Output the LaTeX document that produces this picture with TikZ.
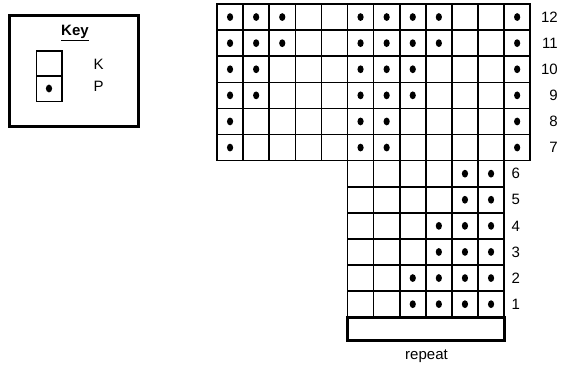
\documentclass[tikz,border=0pt]{standalone}
\usepackage{fontspec}
\setmainfont{Liberation Sans}
\usetikzlibrary{positioning}
\tikzset{
  knit grid/.style={draw=black,line width=1.6pt,line cap=rect},
  knit frame/.style={draw=black,line width=3pt},
  knit purl/.style={fill=black,draw=none},
  knit label/.style={
    text=black,
    inner sep=0pt,
    font=\fontsize{15}{17}\selectfont
  },
  knit title/.style={
    knit label,
    font=\fontsize{15}{17}\selectfont\bfseries
  }
}

\begin{document}
\begin{tikzpicture}[x=1pt,y=-1pt]
  \useasboundingbox (0,0) rectangle (561,364);

  % key box
  \draw[knit frame] (9.5,15.5) rectangle (138.5,126.5);
  \node[knit title] (keytitle) at (75,33) {\underline{Key}};
  \draw[knit grid] (36.3,50.7) rectangle (61.7,101.3);
  \draw[knit grid] (36.3,75.7) -- (61.7,75.7);
  \fill[knit purl] (49,88.5) circle[x radius=3.1pt,y radius=3.9pt];
  \node[knit label,anchor=west] (keyk) at (93.5,64) {K};
  \node[knit label,anchor=west] (keyp) at (93.5,86) {P};

  % chart
  \begin{scope}[shift={(217,4)},x=26.1pt,y=-26.1pt]
    \foreach \i in {0,...,12} \draw[knit grid] (\i,0) -- (\i,6);
    \foreach \j in {0,...,6} \draw[knit grid] (0,\j) -- (12,\j);
    \foreach \i in {5,...,11} \draw[knit grid] (\i,6) -- (\i,12);
    \foreach \j in {7,...,12} \draw[knit grid] (5,\j) -- (11,\j);
    \foreach \r/\cols in {12/{1,2,3,6,7,8,9,12},11/{1,2,3,6,7,8,9,12},
        10/{1,2,6,7,8,12},9/{1,2,6,7,8,12},8/{1,6,7,12},7/{1,6,7,12},
        6/{10,11},5/{10,11},4/{9,10,11},3/{9,10,11},
        2/{8,9,10,11},1/{8,9,10,11}}
      \foreach \c in \cols
        \fill[knit purl] (\c-0.5,12.5-\r) circle[x radius=3.1pt,y radius=3.9pt];
    \draw[knit frame] (5,12) rectangle (11,12.9);
  \end{scope}

  % row numbers
  \foreach \r in {12,...,7}
    \node[knit label,anchor=east] (row\r) at (558,{4+(12.5-\r)*26.1}) {\r};
  \foreach \r in {6,...,1}
    \node[knit label,anchor=west] (row\r) at (511.5,{4+(12.5-\r)*26.1}) {\r};
  \node[knit label,anchor=base] (repeatlbl) at (426.5,359) {repeat};
\end{tikzpicture}
\end{document}
